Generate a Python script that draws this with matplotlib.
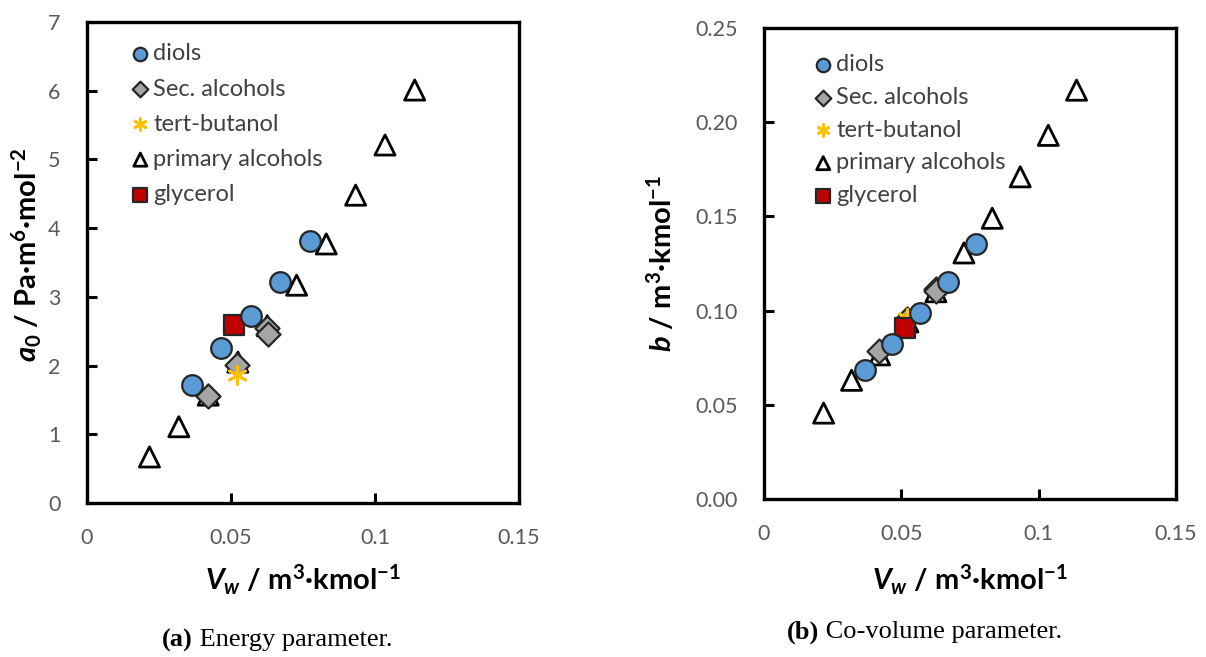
import matplotlib
matplotlib.use('Agg')
import matplotlib.pyplot as plt

# === Data ===
# panel (a): energy parameter a0 vs Vw
diols_vw = [0.0366, 0.0467, 0.0568, 0.0670, 0.0773]
diols_a0 = [1.72, 2.26, 2.72, 3.22, 3.82]
sec_vw_a = [0.0420, 0.0520, 0.0625, 0.0628]
sec_a0 = [1.56, 2.01, 2.55, 2.46]
tert_vw_a = [0.0520]
tert_a0 = [1.86]
prim_vw = [0.0217, 0.0319, 0.0421, 0.0524, 0.0626, 0.0728, 0.0831, 0.0933, 0.1035, 0.1138]
prim_a0 = [0.67, 1.11, 1.57, 2.05, 2.58, 3.17, 3.77, 4.48, 5.21, 6.01]
gly_vw = [0.0512]
gly_a0 = [2.59]

# panel (b): co-volume b vs Vw
diols_b = [0.0685, 0.0823, 0.0987, 0.1152, 0.1353]
sec_vw_b = [0.0420, 0.0520, 0.0625, 0.0628]
sec_b = [0.0785, 0.0955, 0.1115, 0.1105]
tert_vw_b = [0.0520]
tert_b = [0.0960]
prim_b = [0.0456, 0.0630, 0.0765, 0.0940, 0.1100, 0.1306, 0.1490, 0.1710, 0.1930, 0.2170]
gly_b = [0.0910]

xticks = [0, 0.05, 0.1, 0.15]
xticklabels = ['0', '0.05', '0.1', '0.15']
yticks_a = [0, 1, 2, 3, 4, 5, 6, 7]
yticks_b = [0.00, 0.05, 0.10, 0.15, 0.20, 0.25]
yticklabels_b = ['0.00', '0.05', '0.10', '0.15', '0.20', '0.25']

SANS = 'Lato'
plt.rcParams['font.family'] = SANS
plt.rcParams['mathtext.fontset'] = 'custom'
plt.rcParams['mathtext.rm'] = SANS + ':bold'
plt.rcParams['mathtext.it'] = SANS + ':bold:italic'
plt.rcParams['mathtext.bf'] = SANS + ':bold'

TICK_GREY = '#595959'
TEXT_GREY = '#404040'


def draw_panel(ax, sec_vw, sec_y, tert_vw, tert_y, prim_y, gly_y, diol_y,
               leg_anchor, leg_space):
    ms = 210
    ax.scatter(prim_vw, prim_y, s=ms, marker='^', facecolors='none',
               edgecolors='black', linewidths=2.0, zorder=3, label='primary alcohols')
    ax.scatter(sec_vw, sec_y, s=150, marker='D', facecolors='#A5A5A5',
               edgecolors='#262626', linewidths=1.6, zorder=4, label='Sec. alcohols')
    ax.scatter(tert_vw, tert_y, s=170, marker=(6, 2, 0), color='#FFC000',
               linewidths=2.0, zorder=4, label='tert-butanol')
    ax.scatter(gly_vw, gly_y, s=ms, marker='s', facecolors='#C00000',
               edgecolors='#262626', linewidths=1.6, zorder=5, label='glycerol')
    ax.scatter(diols_vw, diol_y, s=ms * 1.05, marker='o', facecolors='#5B9BD5',
               edgecolors='#262626', linewidths=1.6, zorder=6, label='diols')

    for sp in ax.spines.values():
        sp.set_linewidth(2.4)
    ax.tick_params(direction='in', length=7, width=2.2, labelsize=15.5,
                   labelcolor=TICK_GREY)
    ax.tick_params(axis='x', pad=18)
    ax.tick_params(axis='y', pad=19)
    ax.set_xlim(0, 0.15)
    ax.set_xticks(xticks)
    ax.set_xticklabels(xticklabels)

    h, l = ax.get_legend_handles_labels()
    order = ['diols', 'Sec. alcohols', 'tert-butanol', 'primary alcohols', 'glycerol']
    hh = [h[l.index(o)] for o in order]
    leg = ax.legend(hh, order, loc='upper left', bbox_to_anchor=leg_anchor,
                    frameon=False, fontsize=17, markerscale=0.65,
                    handletextpad=0.05, labelspacing=leg_space, handlelength=1.0,
                    borderaxespad=0.3)
    for t in leg.get_texts():
        t.set_color(TEXT_GREY)


fig = plt.figure(figsize=(12.06, 6.57), dpi=100)
ax1 = fig.add_axes([0.0721, 0.2344, 0.3582, 0.7321])
ax2 = fig.add_axes([0.6335, 0.2405, 0.3416, 0.7169])

xlab = r'$V_w$ / m$^{3}$·kmol$^{-1}$'

# (a) energy parameter
draw_panel(ax1, sec_vw_a, sec_a0, tert_vw_a, tert_a0, prim_a0, gly_a0, diols_a0,
           (0.058, 0.99), 0.60)
ax1.set_ylim(0, 7)
ax1.set_yticks(yticks_a)
ax1.set_ylabel(r'$a_0$ / Pa·m$^{6}$·mol$^{-2}$', fontsize=21, fontweight='bold')
ax1.set_xlabel(xlab, fontsize=21, fontweight='bold')
ax1.yaxis.set_label_coords(-0.139, 0.516)
ax1.xaxis.set_label_coords(0.5, -0.160)

# (b) co-volume parameter
draw_panel(ax2, sec_vw_b, sec_b, tert_vw_b, tert_b, prim_b, gly_b, diols_b,
           (0.075, 0.98), 0.50)
ax2.set_ylim(0, 0.25)
ax2.set_yticks(yticks_b)
ax2.set_yticklabels(yticklabels_b)
ax2.set_ylabel(r'$b$ / m$^{3}$·kmol$^{-1}$', fontsize=21, fontweight='bold')
ax2.set_xlabel(xlab, fontsize=21, fontweight='bold')
ax2.yaxis.set_label_coords(-0.25, 0.50)
ax2.xaxis.set_label_coords(0.5, -0.172)

for ax in (ax1, ax2):
    ax.xaxis.label.set_va('center')
    ax.yaxis.label.set_va('center')

# captions
SERIF = 'Liberation Serif'
fig.text(0.160, 1 - 640 / 657, '(a)', family=SERIF, weight='bold', fontsize=19,
         ha='right', va='center')
fig.text(0.160, 1 - 640 / 657, ' Energy parameter.', family=SERIF, fontsize=19,
         ha='left', va='center')
fig.text(0.679, 1 - 632 / 657, '(b)', family=SERIF, weight='bold', fontsize=19,
         ha='right', va='center')
fig.text(0.679, 1 - 632 / 657, ' Co-volume parameter.', family=SERIF, fontsize=19,
         ha='left', va='center')

fig.savefig('out.png', dpi=100)
